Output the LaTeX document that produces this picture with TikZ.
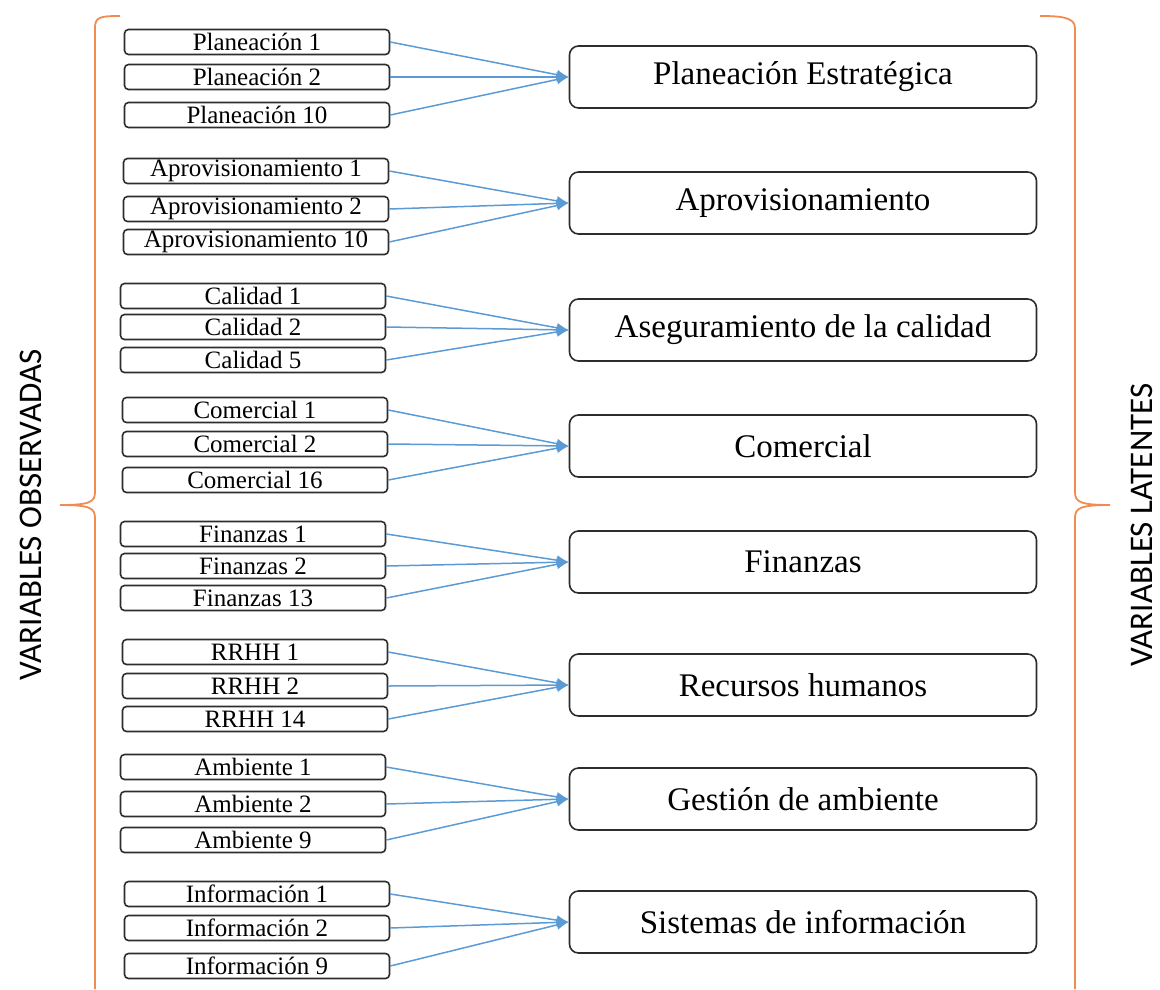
\documentclass[tikz,border=0pt]{standalone}
\usepackage{fontspec}
\setmainfont{Liberation Serif}
\newfontfamily\bracefont{Carlito}
\usetikzlibrary{arrows.meta}

\definecolor{linkblue}{RGB}{91,155,213}
\definecolor{braceorange}{RGB}{240,140,80}
\definecolor{boxgray}{RGB}{45,45,45}

\tikzset{
    obsbox/.style={draw=boxgray, line width=1.6pt, rounded corners=4pt, minimum width=265pt, minimum height=25pt, inner sep=0pt, font=\fontsize{25}{26}\selectfont},
    latbox/.style={draw=boxgray, line width=1.6pt, rounded corners=9pt, minimum width=467pt, minimum height=62pt, inner sep=0pt, font=\fontsize{33}{35}\selectfont},
    link/.style={linkblue, line width=1.5pt, -{Latex[length=12pt,width=10pt]}},
    curly/.style={braceorange, line width=1.8pt},
    sidelabel/.style={rotate=90, inner sep=0pt, font=\bracefont\fontsize{33}{35}\selectfont}
}

\begin{document}
\begin{tikzpicture}[x=1pt, y=-1pt]

    \useasboundingbox (0,0) rectangle (1160,989);

    % latent variables
    \node[latbox] (pe)  at (803,77)  {Planeación Estratégica};
    \node[latbox] (apr) at (803,203) {Aprovisionamiento};
    \node[latbox] (cal) at (803,330) {Aseguramiento de la calidad};
    \node[latbox] (com) at (803,446) {Comercial};
    \node[latbox] (fin) at (803,562) {Finanzas};
    \node[latbox] (rh)  at (803,685) {Recursos humanos};
    \node[latbox] (amb) at (803,799) {Gestión de ambiente};
    \node[latbox] (inf) at (803,922) {Sistemas de información};

    % observed variables
    \node[obsbox] (pe1)  at (257,42)  {Planeación 1};
    \node[obsbox] (pe2)  at (257,77)  {Planeación 2};
    \node[obsbox] (pe3)  at (257,115) {Planeación 10};

    \node[obsbox] (apr1) at (256,171) {Aprovisionamiento 1};
    \node[obsbox] (apr2) at (256,209) {Aprovisionamiento 2};
    \node[obsbox] (apr3) at (256,242) {Aprovisionamiento 10};

    \node[obsbox] (cal1) at (253,296) {Calidad 1};
    \node[obsbox] (cal2) at (253,327) {Calidad 2};
    \node[obsbox] (cal3) at (253,360) {Calidad 5};

    \node[obsbox] (com1) at (255,410) {Comercial 1};
    \node[obsbox] (com2) at (255,444) {Comercial 2};
    \node[obsbox] (com3) at (255,480) {Comercial 16};

    \node[obsbox] (fin1) at (253,534) {Finanzas 1};
    \node[obsbox] (fin2) at (253,566) {Finanzas 2};
    \node[obsbox] (fin3) at (253,598) {Finanzas 13};

    \node[obsbox] (rh1)  at (255,652) {RRHH 1};
    \node[obsbox] (rh2)  at (255,686) {RRHH 2};
    \node[obsbox] (rh3)  at (255,719) {RRHH 14};

    \node[obsbox] (amb1) at (253,767) {Ambiente 1};
    \node[obsbox] (amb2) at (253,804) {Ambiente 2};
    \node[obsbox] (amb3) at (253,840) {Ambiente 9};

    \node[obsbox] (inf1) at (257,894) {Información 1};
    \node[obsbox] (inf2) at (257,928) {Información 2};
    \node[obsbox] (inf3) at (257,966) {Información 9};

    % links
    \foreach \g in {pe, apr, cal, com, fin, rh, amb, inf}
        \foreach \i in {1,2,3}
            \draw[link] (\g\i.east) -- (\g.west);

    % braces
    \draw[curly] (120,16) .. controls (100,16) and (95,17) .. (95,28) -- (95,492)
        .. controls (95,502) and (90,505) .. (60,505)
        .. controls (90,505) and (95,508) .. (95,518) -- (95,989);
    \draw[curly] (1040,16) .. controls (1060,16) and (1075,17) .. (1075,28) -- (1075,492)
        .. controls (1075,502) and (1080,505) .. (1110,505)
        .. controls (1080,505) and (1075,508) .. (1075,518) -- (1075,989);

    \node[sidelabel] (obs) at (31,515) {VARIABLES OBSERVADAS};
    \node[sidelabel] (lat) at (1142,525) {VARIABLES LATENTES};

\end{tikzpicture}
\end{document}
